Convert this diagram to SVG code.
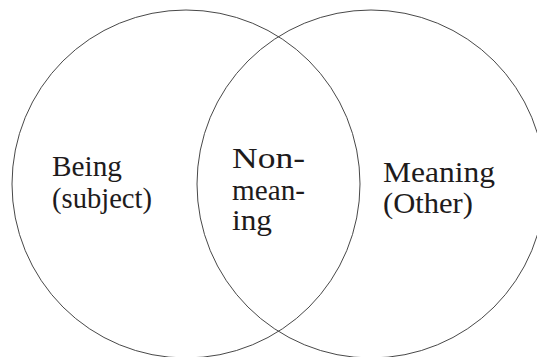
<svg xmlns="http://www.w3.org/2000/svg" width="537" height="357" viewBox="0 0 537 357">
  <style>
    .ring { fill: none; stroke: #333333; stroke-width: 0.9; }
    .lbl { font-family: 'Liberation Serif', 'DejaVu Serif', 'Times New Roman', Times, serif; font-size: 30px; fill: #1e1b1c; }
  </style>
  <rect width="537" height="357" fill="#ffffff"/>
  <g id="being">
    <circle class="ring" cx="186" cy="184" r="174"/>
    <text class="lbl" x="52" y="176" textLength="70" lengthAdjust="spacingAndGlyphs">Being</text>
    <text class="lbl" x="52" y="208" textLength="100" lengthAdjust="spacingAndGlyphs">(subject)</text>
  </g>
  <g id="meaning">
    <circle class="ring" cx="371" cy="184" r="174"/>
    <text class="lbl" x="383" y="182" textLength="112" lengthAdjust="spacingAndGlyphs">Meaning</text>
    <text class="lbl" x="383" y="213" textLength="90" lengthAdjust="spacingAndGlyphs">(Other)</text>
  </g>
  <g id="non-meaning">
    <text class="lbl" x="232" y="168" textLength="73" lengthAdjust="spacingAndGlyphs">Non-</text>
    <text class="lbl" x="232" y="200" textLength="73" lengthAdjust="spacingAndGlyphs">mean-</text>
    <text class="lbl" x="232" y="230" textLength="40" lengthAdjust="spacingAndGlyphs">ing</text>
  </g>
</svg>
